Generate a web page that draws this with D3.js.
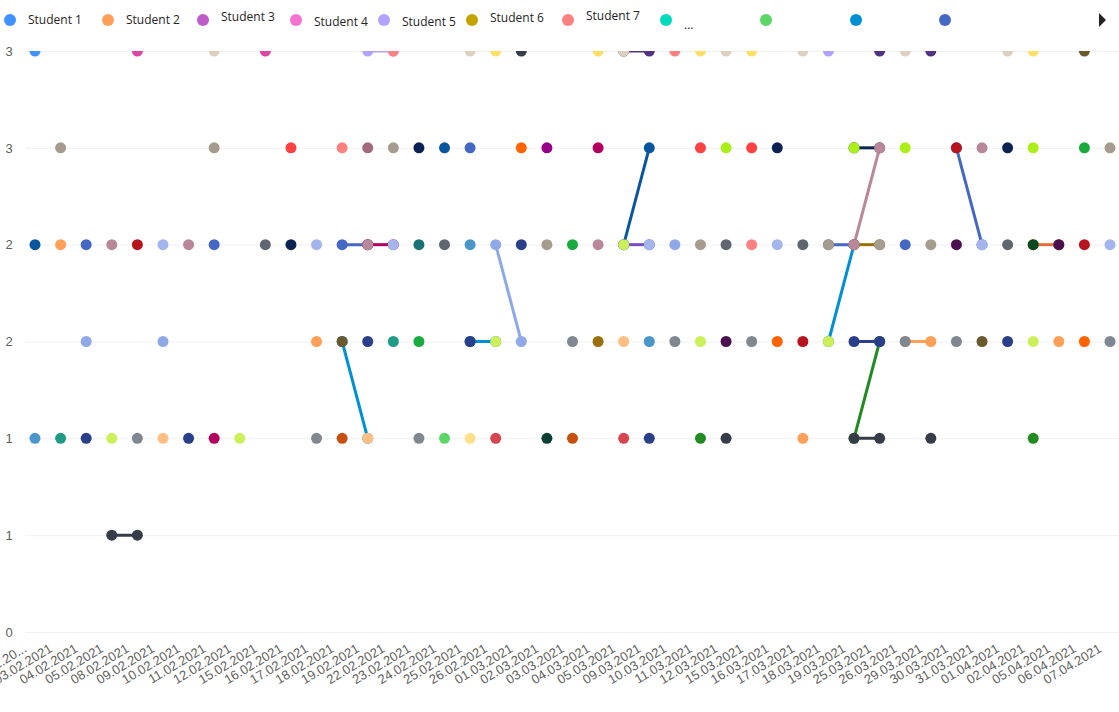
<!DOCTYPE html>
<html>
<head>
<meta charset="utf-8">
<script src="https://cdn.jsdelivr.net/npm/d3@7"></script>
<style>
  body { margin: 0; background: #fff; }
  svg { font-family: 'Segoe UI', 'Open Sans', sans-serif; }
  .legend text { font-size: 12px; fill: #252423; }
  .tick text { font-size: 13px; fill: #605E5C; }
</style>
</head>
<body>
<svg width="1119" height="712"></svg>
<script>
const svg = d3.select('svg');
const width = +svg.attr('width');
const height = +svg.attr('height');

// dates on the x axis (all 2021)
const dates = ['01.02', '03.02', '04.02', '05.02', '08.02', '09.02', '10.02', '11.02', '12.02',
  '15.02', '16.02', '17.02', '18.02', '19.02', '22.02', '23.02', '24.02', '25.02', '26.02',
  '01.03', '02.03', '03.03', '04.03', '05.03', '09.03', '10.03', '11.03', '12.03', '15.03',
  '16.03', '17.03', '18.03', '19.03', '25.03', '26.03', '29.03', '30.03', '31.03', '01.04',
  '02.04', '05.04', '06.04', '07.04'];

const yTicks = [0, 0.5, 1, 1.5, 2, 2.5, 3];

// legend shows only the first students, the rest scrolls away
const legendLabels = ['Student 1', 'Student 2', 'Student 3', 'Student 4', 'Student 5',
  'Student 6', 'Student 7', '...', '', '', ''];

const studentNames = d3.range(1, 46).map(i => 'Student ' + i);

const studentColors = [
  '#4092FF', '#FFA058', '#BE5DC9', '#F472D0', '#B5A1FF', '#C4A200', '#FF8080', '#00DBBC',
  '#5BD667', '#0091D5', '#4668C5', '#E86C37', '#744EC2', '#533285', '#0A569E', '#B3005F',
  '#0A2350', '#99700A', '#218B21', '#B8889A', '#2A3F8A', '#363C48', '#AAF016', '#CCF05A',
  '#A3B5EC', '#8FA8E8', '#A69C8E', '#DDD0BE', '#FFE066', '#E044A7', '#6B5A2E', '#FF4141',
  '#A3687A', '#FF6300', '#99008A', '#B8141E', '#1AAB40', '#5F6670', '#197278', '#4A96C8',
  '#4A1050', '#0A4A20', '#1F9A85', '#7F8790', '#FFBE82', '#C8500F', '#FFE08A', '#D64550',
  '#0A3F35'
];

// scores per student: [date, score]
const studentScores = [
  [['01.02', 3]],
  [['03.02', 2], ['17.02', 1.5], ['17.03', 1], ['26.03', 1.5], ['29.03', 1.5], ['05.04', 1.5]],
  [],
  [],
  [['19.02', 3], ['22.02', 3], ['18.03', 3]],
  [],
  [['18.02', 2.5], ['22.02', 3], ['10.03', 3], ['15.03', 2]],
  [],
  [['24.02', 1]],
  [['18.02', 1.5], ['19.02', 1], ['25.02', 1.5], ['26.02', 1.5], ['18.03', 1.5], ['19.03', 2]],
  [['04.02', 2], ['11.02', 2], ['18.02', 2], ['19.02', 2], ['25.02', 2.5], ['18.03', 2],
    ['19.03', 2], ['26.03', 2], ['30.03', 2.5], ['31.03', 2]],
  [['02.04', 2], ['05.04', 2]],
  [['05.03', 2], ['09.03', 2]],
  [['05.03', 3], ['09.03', 3], ['25.03', 3], ['29.03', 3]],
  [['01.02', 2], ['24.02', 2.5], ['05.03', 2], ['09.03', 2.5]],
  [['11.02', 1], ['19.02', 2], ['22.02', 2], ['04.03', 2.5]],
  [['16.02', 2], ['23.02', 2.5], ['16.03', 2.5], ['19.03', 2.5], ['25.03', 2.5], ['01.04', 2.5]],
  [['04.03', 1.5], ['19.03', 2], ['25.03', 2]],
  [['11.03', 1], ['19.03', 1], ['25.03', 1.5], ['02.04', 1]],
  [['05.02', 2], ['10.02', 2], ['19.02', 2], ['04.03', 2], ['19.03', 2], ['25.03', 2.5], ['31.03', 2.5]],
  [['04.02', 1], ['10.02', 1], ['19.02', 1.5], ['25.02', 1.5], ['01.03', 2], ['09.03', 1],
    ['19.03', 1.5], ['25.03', 1.5], ['01.04', 1.5]],
  [['05.02', 0.5], ['08.02', 0.5], ['01.03', 3], ['12.03', 1], ['19.03', 1], ['25.03', 1], ['29.03', 1]],
  [['12.03', 2.5], ['19.03', 2.5], ['26.03', 2.5], ['02.04', 2.5]],
  [['05.02', 1], ['12.02', 1], ['26.02', 1.5], ['05.03', 2], ['11.03', 1.5], ['18.03', 1.5], ['02.04', 1.5]],
  [['09.02', 2], ['17.02', 2], ['22.02', 2], ['09.03', 2], ['16.03', 2], ['31.03', 2], ['07.04', 2]],
  [['04.02', 1.5], ['09.02', 1.5], ['26.02', 2], ['01.03', 1.5], ['10.03', 2]],
  [['03.02', 2.5], ['11.02', 2.5], ['22.02', 2.5], ['07.04', 2.5], ['02.03', 2], ['11.03', 2],
    ['18.03', 2], ['25.03', 2], ['29.03', 2]],
  [['11.02', 3], ['25.02', 3], ['05.03', 3], ['12.03', 3], ['17.03', 3], ['26.03', 3], ['01.04', 3]],
  [['26.02', 3], ['04.03', 3], ['11.03', 3], ['15.03', 3], ['02.04', 3]],
  [['08.02', 3], ['15.02', 3]],
  [['06.04', 3], ['18.02', 1.5], ['31.03', 1.5]],
  [['16.02', 2.5], ['11.03', 2.5], ['15.03', 2.5]],
  [['19.02', 2.5]],
  [['01.03', 2.5], ['16.03', 1.5], ['06.04', 1.5]],
  [['02.03', 2.5]],
  [['30.03', 2.5], ['08.02', 2], ['06.04', 2], ['17.03', 1.5]],
  [['06.04', 2.5], ['03.03', 2], ['23.02', 1.5]],
  [['15.02', 2], ['24.02', 2], ['12.03', 2], ['17.03', 2], ['01.04', 2]],
  [['23.02', 2]],
  [['25.02', 2], ['09.03', 1.5], ['01.02', 1]],
  [['30.03', 2], ['05.04', 2], ['12.03', 1.5]],
  [['02.04', 2]],
  [['22.02', 1.5], ['03.02', 1]],
  [['08.02', 1], ['17.02', 1], ['23.02', 1], ['03.03', 1.5], ['10.03', 1.5], ['15.03', 1.5],
    ['26.03', 1.5], ['30.03', 1.5], ['07.04', 1.5]],
  [['05.03', 1.5], ['09.02', 1], ['19.02', 1]],
  [['18.02', 1], ['03.03', 1]],
  [['25.02', 1]],
  [['26.02', 1], ['05.03', 1]],
  [['02.03', 1]]
];

const xScale = d3.scalePoint()
  .domain(dates)
  .range([35, 1110]);

const yScale = d3.scaleLinear()
  .domain([0, 3])
  .range([632, 51]);

// y axis: gridlines + rounded labels
const yAxis = d3.axisLeft(yScale)
  .tickValues(yTicks)
  .tickSize(-(width - 25))
  .tickPadding(10)
  .tickFormat(d => Math.round(d));

const yAxisG = svg.append('g')
  .attr('transform', 'translate(25,0)')
  .call(yAxis);
yAxisG.select('.domain').remove();
yAxisG.selectAll('.tick line').attr('stroke', '#F1F1F1');
yAxisG.selectAll('.tick text').attr('x', -16).attr('text-anchor', 'middle');

// x axis: rotated date labels
const xAxis = d3.axisBottom(xScale)
  .tickSize(0)
  .tickFormat((d, i) => i === 0 ? d + '.20...' : d + '.2021');

const xAxisG = svg.append('g')
  .attr('transform', 'translate(0,640)')
  .call(xAxis);
xAxisG.select('.domain').remove();
xAxisG.selectAll('.tick text')
  .attr('text-anchor', 'end')
  .attr('y', 0)
  .attr('dy', 0)
  .attr('transform', 'translate(-8,11) rotate(-31)');

// plot area, clipped at the top value
svg.append('clipPath').attr('id', 'plot-clip')
  .append('rect')
  .attr('x', 25).attr('y', yScale(3))
  .attr('width', width - 25).attr('height', 600);

const plot = svg.append('g').attr('clip-path', 'url(#plot-clip)');

const series = studentScores.map((pts, i) => {
  const byDate = new Map(pts);
  return {
    name: studentNames[i],
    color: studentColors[i],
    points: pts,
    dense: dates.map(d => ({ date: d, value: byDate.has(d) ? byDate.get(d) : null }))
  };
});

const line = d3.line()
  .defined(d => d.value !== null)
  .x(d => xScale(d.date))
  .y(d => yScale(d.value));

plot.append('g').selectAll('path')
  .data(series)
  .join('path')
    .attr('d', d => line(d.dense))
    .attr('fill', 'none')
    .attr('stroke', d => d.color)
    .attr('stroke-width', 3);

plot.append('g').selectAll('g')
  .data(series)
  .join('g')
    .attr('fill', d => d.color)
  .selectAll('circle')
  .data(d => d.points)
  .join('circle')
    .attr('cx', d => xScale(d[0]))
    .attr('cy', d => yScale(d[1]))
    .attr('r', 5.5);

// legend
const legendX = [10, 108, 203, 296, 384, 472, 568, 666, 766, 856, 945];
const legendDy = [0, 0, -3, 2, 2, -2, -4, 5, 0, 0, 0];
const legend = svg.append('g').attr('class', 'legend');
const item = legend.selectAll('g')
  .data(legendLabels)
  .join('g')
    .attr('transform', (d, i) => `translate(${legendX[i]},20)`);
item.append('circle')
  .attr('r', 6)
  .attr('fill', (d, i) => studentColors[i]);
item.append('text')
  .attr('x', 18)
  .attr('y', (d, i) => legendDy[i])
  .attr('dy', '0.35em')
  .text(d => d);

legend.append('path')
  .attr('d', 'M1099,13 L1106,20 L1099,27 Z')
  .attr('fill', '#252423');
</script>
</body>
</html>
